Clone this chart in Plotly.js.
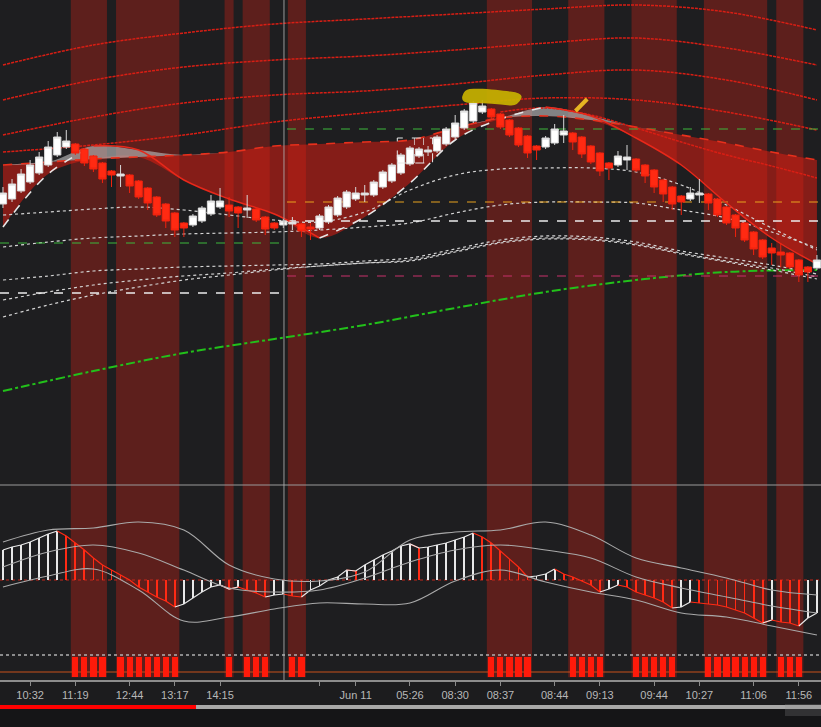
<!DOCTYPE html>
<html><head><meta charset="utf-8">
<script src="https://cdn.plot.ly/plotly-3.0.1.min.js"></script>
<style>html,body{margin:0;padding:0;background:#1c1c1e;}#chart{width:821px;height:727px;}</style>
</head><body><div id="chart"></div>
<script>
// ---------- DATA ----------
const openP = [296,301,309,318,327,335,345,353,356,351,
 344,337,329,324,325,319,312,303,296,287,
 277,275,279,286,293,295,293,290,291,283,
 277,275,276,276,273,272,278,285,293,301,
 305,305,313,319,327,336,344,348,349,356,
 363,372,379,388,391,386,380,372,364,354,
 353,357,365,367,363,354,347,337,335,340,
 341,335,330,320,313,304,301,305,306,301,
 293,285,277,268,260,252,248,247,240,233,232];
const closeP = [307,316,326,335,343,353,363,359,347,337,
 331,321,325,326,314,303,297,285,279,270,
 272,284,292,299,299,289,287,292,280,271,
 272,279,278,269,271,284,293,302,308,307,
 307,318,328,335,345,352,351,350,363,371,
 377,389,397,394,383,373,365,355,347,350,
 362,371,369,358,346,338,329,332,344,343,
 330,324,313,306,296,298,307,307,297,285,
 277,272,260,251,243,247,245,233,225,228,240];
const highP = [313,321,331,340,348,359,368,370,357,352,
 345,338,330,335,326,320,313,304,297,288,
 278,286,294,305,312,303,294,305,292,284,
 278,281,283,277,277,286,295,304,310,313,
 315,320,330,337,347,354,353,354,365,373,
 385,391,399,400,392,387,381,373,365,355,
 364,376,385,368,364,355,348,338,349,355,
 342,336,331,321,314,305,313,321,307,302,
 294,286,278,269,261,257,257,248,241,234,245];
const lowP = [292,298,307,316,325,333,343,351,345,334,
 328,317,313,313,307,301,290,283,272,263,
 263,273,277,284,291,283,272,282,278,265,
 270,272,270,263,260,270,276,283,291,299,
 298,303,311,317,325,334,342,344,347,354,
 361,370,377,386,381,371,363,353,342,340,
 351,355,357,350,342,336,324,320,333,330,
 328,317,307,298,290,285,299,297,290,283,
 275,263,258,245,241,235,233,231,218,218,230];

// time-axis labels (at bar index)
const tickIdx  = [3,8,14,19,24,35,39,45,50,55,61,66,72,77,83,88];
const tickText = ["10:32","11:19","12:44","13:17","14:15","","Jun 11","05:26","08:30","08:37","08:44","09:13","09:44","10:27","11:06","11:56"];

// signal bars (bottom panel / red session bands)
const signalBars = [8,9,10,11,13,14,15,16,17,18,19,25,27,28,29,32,33,
 54,55,56,57,58,63,64,65,66,70,71,72,73,74,78,79,80,81,82,83,84,86,87,88];

// smooth averages sampled every 5 bars
const curveIdx = [0,5,10,15,20,25,30,35,40,45,50,55,60,65,70,75,80,85,90];
const fastMA = [273,326,354,350,320,301,286,262,283,317,360,381,393,384,362,335,297,262,236];
const slowMA = [335,338,341,343,345,348,354,356,358,360,372,382,384,380,373,365,357,348,340];
const whiteX  = [285,288,291,293,290,285,280,278,288,310,325,331,332,332,328,315,295,272,250];
const whiteY  = [253,258,262,264,266,267,268,270,273,277,287,295,298,298,297,290,282,268,252];
const whiteZ1 = [220,224,229,231,233,234,235,236,239,242,251,260,264,263,258,249,242,235,226];
const whiteZ2 = [200,208,215,220,224,227,231,234,237,240,249,258,262,261,256,247,239,232,223];
const whiteV  = [183,195,205,213,220,225,230,234,237,239,248,257,261,260,255,246,238,230,221];

// long averages sampled every 10 bars
const ribbonIdx = [0,10,20,30,40,50,60,70,80,90];
const redMA1 = [435,455,467,476,481,486,491,495,488,470];
const redMA2 = [400,420,433,440,444,450,457,462,452,435];
const redMA3 = [365,383,397,405,409,416,425,430,420,400];
const redMA4 = [348,355,365,378,387,395,402,400,388,370];
const redMA5Idx = [55,60,65,70,75,80,85,90];
const redMA5 = [388,392,385,372,358,345,334,322];
const greenMA = [109,129,147,161,175,192,208,220,228,230];

// horizontal levels
const sessionSplit = 31.4;
const prevLevels = [257,207];          // green, white
const todayLevels = [371,298,279,224];  // green, orange, white, pink

// oscillator panel
const histVals = [30,33,35,38,42,46,49,44,37,30,
 22,15,10,5,0,-7,-12,-17,-21,-27,
 -24,-18,-12,-7,-5,-9,-7,-10,-13,-17,
 -15,-14,-16,-17,-10,-6,0,3,10,9,
 15,20,25,29,34,36,32,33,35,37,
 40,43,47,43,37,29,21,13,3,4,
 6,11,6,3,-1,-5,-12,-9,-5,-7,
 -12,-15,-18,-22,-28,-27,-22,-23,-24,-25,
 -27,-30,-33,-38,-43,-40,-42,-43,-46,-38,-33];
const oscUpper = [38,50,52,58,50,15,1,-1,8,40,48,50,58,45,22,12,2,-10,-15];
const oscMid   = [13,28,35,27,10,-8,-12,-10,2,18,30,35,30,22,3,-8,-17,-26,-33];
const oscLower = [-7,4,11,-10,-41,-37,-29,-23,-24,-23,-1,10,-2,-12,-20,-33,-37,-46,-55];

// ---------- BUILD ----------
const barIdx = openP.map((_, i) => i);
const WHITE = '#e8e8e8', RED = '#ff2a14';
const traces = [];
const skip = {hoverinfo:'skip', showlegend:false};

// cloud fills
const minFS = fastMA.map((f,k)=>Math.min(f, slowMA[k]));
const maxFS = fastMA.map((f,k)=>Math.max(f, slowMA[k]));
traces.push({x:curveIdx, y:slowMA, mode:'lines', line:{width:0, shape:'spline'}, ...skip});
traces.push({x:curveIdx, y:minFS, mode:'lines', fill:'tonexty', fillcolor:'rgba(218,30,18,0.55)', line:{width:0, shape:'spline'}, ...skip});
traces.push({x:curveIdx, y:slowMA, mode:'lines', line:{width:0, shape:'spline'}, ...skip});
traces.push({x:curveIdx, y:maxFS, mode:'lines', fill:'tonexty', fillcolor:'rgba(185,185,185,0.65)', line:{width:0, shape:'spline'}, ...skip});

// red long averages
const redLine = {color:'#d81e14', width:1.5, dash:'3px,1px', shape:'spline'};
[redMA1, redMA2, redMA3, redMA4].forEach(arr => {
  traces.push({x:ribbonIdx, y:arr, mode:'lines', line:redLine, ...skip});
});
traces.push({x:redMA5Idx, y:redMA5, mode:'lines', line:redLine, ...skip});

// green long average
traces.push({x:ribbonIdx, y:greenMA, mode:'lines', line:{color:'#22c01a', width:2, dash:'dashdot', shape:'spline'}, ...skip});

// white averages
[whiteX, whiteY, whiteZ1, whiteZ2, whiteV].forEach(arr => {
  traces.push({x:curveIdx, y:arr, mode:'lines', line:{color:'#d4d4d4', width:1.2, dash:'dot', shape:'spline'}, ...skip});
});

// horizontal levels
const xMin = -0.33, xMax = 90.45;
const prevColors = ['#3cb83c','#ececec'];
prevLevels.forEach((v,k)=>traces.push({x:[xMin, sessionSplit], y:[v,v], mode:'lines', line:{color:prevColors[k], width:k===1?1.6:1.1, dash:'dash'}, ...skip}));
const todayColors = ['#3cb83c','#e8a21e','#ececec','#c8306a'];
todayLevels.forEach((v,k)=>traces.push({x:[sessionSplit, xMax], y:[v,v], mode:'lines', line:{color:todayColors[k], width:k===2?1.6:1.1, dash:'dash'}, ...skip}));

// slow line
traces.push({x:curveIdx, y:slowMA, mode:'lines', line:{color:'#e8301c', width:1.6, dash:'dash', shape:'spline'}, ...skip});
// fast line coloured by direction
function splitDir(vals){
  const up = [], dn = [];
  const segUp = k => (k>=0 && k<vals.length-1) ? vals[k+1] >= vals[k] : null;
  for (let k=0;k<vals.length;k++){
    const a = segUp(k-1), b = segUp(k);
    up.push((a===true||b===true) ? vals[k] : null);
    dn.push((a===false||b===false) ? vals[k] : null);
  }
  return {up, dn};
}
const fs = splitDir(fastMA);
traces.push({x:curveIdx, y:fs.dn, mode:'lines', connectgaps:false, line:{color:'#e8281a', width:1.5, shape:'spline'}, ...skip});
traces.push({x:curveIdx, y:fs.up, mode:'lines', connectgaps:false, line:{color:'#e6e6e6', width:1.6, dash:'dash', shape:'spline'}, ...skip});

// candles (on an overlaying axis so they sit above every line and fill)
traces.push({type:'candlestick', x:barIdx, open:openP, high:highP, low:lowP, close:closeP,
  increasing:{line:{color:'#d8d8d8', width:1}, fillcolor:'#ffffff'},
  decreasing:{line:{color:'#f0220e', width:1}, fillcolor:'#ff2a12'},
  whiskerwidth:0, xaxis:'x', yaxis:'y4', ...skip});

// oscillator panel
const histColors = histVals.map((v,i)=> (i===0 || v >= histVals[i-1]) ? WHITE : RED);
traces.push({type:'bar', x:barIdx, y:histVals, width:0.2, marker:{color:histColors, line:{width:0}}, xaxis:'x', yaxis:'y2', ...skip});
const hUp = [], hDn = [];
histVals.forEach((v,i)=>{
  const curUp = i===0 || v >= histVals[i-1];
  const nextUp = i < histVals.length-1 ? histVals[i+1] >= v : null;
  hUp.push((curUp && i>0) || nextUp===true ? v : null);
  hDn.push((!curUp) || nextUp===false ? v : null);
});
traces.push({x:barIdx, y:hDn, mode:'lines', connectgaps:false, line:{color:RED, width:1.2}, xaxis:'x', yaxis:'y2', ...skip});
traces.push({x:barIdx, y:hUp, mode:'lines', connectgaps:false, line:{color:WHITE, width:1.2}, xaxis:'x', yaxis:'y2', ...skip});
[oscUpper, oscMid, oscLower].forEach(arr=>{
  traces.push({x:curveIdx, y:arr, mode:'lines', line:{color:'#a9a9a9', width:1.1, shape:'spline'}, xaxis:'x', yaxis:'y2', ...skip});
});

// signal panel
traces.push({type:'bar', x:signalBars, y:signalBars.map(()=>20), base:3, width:0.68,
  marker:{color:'#ff1a0a', line:{width:0}}, xaxis:'x', yaxis:'y3', ...skip});

// ---------- SHAPES ----------
const shapes = [];
let runStart = signalBars[0], prev = signalBars[0];
const runs = [];
for (let k=1;k<=signalBars.length;k++){
  const b = signalBars[k];
  if (b === prev + 1) { prev = b; continue; }
  runs.push([runStart, prev]);
  runStart = b; prev = b;
}
runs.forEach(r => shapes.push({type:'rect', xref:'x', yref:'paper', x0:r[0]-0.5, x1:r[1]+0.5, y0:0.004, y1:1,
  fillcolor:'#5d1f1c', line:{width:0}, layer:'below'}));

const macdTop = 195/680, sigTop = 28/680;
shapes.push({type:'line', xref:'paper', yref:'paper', x0:0, x1:1, y0:macdTop, y1:macdTop, line:{color:'#9a9a9a', width:1}});
shapes.push({type:'line', xref:'paper', yref:'y2', x0:0, x1:1, y0:0, y1:0, line:{color:'#c4261a', width:1, dash:'dot'}, layer:'below'});
shapes.push({type:'line', xref:'paper', yref:'y3', x0:0, x1:1, y0:25, y1:25, line:{color:'#b0b0b0', width:1.5, dash:'dot'}});
shapes.push({type:'line', xref:'paper', yref:'y3', x0:0, x1:1, y0:8, y1:8, line:{color:'#c8501a', width:1}, layer:'below'});
shapes.push({type:'line', xref:'x', yref:'paper', x0:31.07, x1:31.07, y0:0, y1:1, line:{color:'rgba(175,175,175,0.85)', width:1}});
shapes.push({type:'rect', xref:'x', yref:'y', x0:43.6, x1:47.5, y0:337, y1:362, line:{color:'#e8e8e8', width:1, dash:'dash'}});
shapes.push({type:'line', xref:'x', yref:'y', x0:45.5, x1:45.5, y0:337, y1:362, line:{color:'rgba(230,230,230,0.7)', width:1, dash:'dash'}});
shapes.push({type:'line', xref:'x', yref:'y', x0:46.5, x1:46.5, y0:337, y1:362, line:{color:'rgba(230,230,230,0.7)', width:1, dash:'dash'}});
shapes.push({type:'path', xref:'x', yref:'y',
  path:'M51.6,411 C53.5,412 55,409.5 56.1,408.5 Q57.6,407 57.3,401.5 Q57,395 56.2,394.5 C54.5,396 53,397.5 51.6,397 Q50.6,397.5 50.8,404 Q51,410.5 51.6,411 Z',
  fillcolor:'rgba(200,178,0,0.92)', line:{width:0}});
shapes.push({type:'line', xref:'x', yref:'y', x0:63.3, x1:64.6, y0:389, y1:401, line:{color:'#e6b422', width:4}});
const pb0 = -25/680, pb1 = -29/680;
shapes.push({type:'rect', xref:'paper', yref:'paper', x0:0, x1:1, y0:pb1, y1:-47/680, fillcolor:'#151517', line:{width:0}});
shapes.push({type:'rect', xref:'paper', yref:'paper', x0:196/821, x1:1, y0:pb0, y1:pb1, fillcolor:'#a8a8a8', line:{width:0}});
shapes.push({type:'rect', xref:'paper', yref:'paper', x0:0, x1:196/821, y0:pb0, y1:pb1, fillcolor:'#ff0000', line:{width:0}});
shapes.push({type:'rect', xref:'paper', yref:'paper', x0:785/821, x1:1, y0:-24/680, y1:-36/680, fillcolor:'rgba(140,140,140,0.25)', line:{width:0}});

const layout = {
  width:821, height:727,
  margin:{l:0, r:0, t:0, b:47, pad:0},
  paper_bgcolor:'#1c1c1e', plot_bgcolor:'#1e1e20',
  showlegend:false, boxgap:0.2, boxgroupgap:0, bargap:0,
  xaxis:{range:[xMin, xMax], anchor:'y3', tickmode:'array', tickvals:tickIdx, ticktext:tickText,
    ticks:'outside', ticklen:4, tickcolor:'#8a8a8a', showline:true, linecolor:'#8c8c8c', linewidth:2,
    showgrid:false, zeroline:false, rangeslider:{visible:false},
    tickfont:{family:'Liberation Sans Narrow, Liberation Sans, Arial, sans-serif', size:11, color:'#b8b8b8'}},
  yaxis:{domain:[macdTop, 1], range:[15, 500], visible:false, showgrid:false, zeroline:false},
  yaxis2:{domain:[sigTop, macdTop], range:[-72, 95], visible:false, showgrid:false, zeroline:false},
  yaxis3:{domain:[0, sigTop], range:[0, 28], visible:false, showgrid:false, zeroline:false},
  yaxis4:{overlaying:'y', range:[15, 500], visible:false, showgrid:false, zeroline:false},
  shapes: shapes
};
Plotly.newPlot('chart', traces, layout, {staticPlot:true, displayModeBar:false});
</script></body></html>
